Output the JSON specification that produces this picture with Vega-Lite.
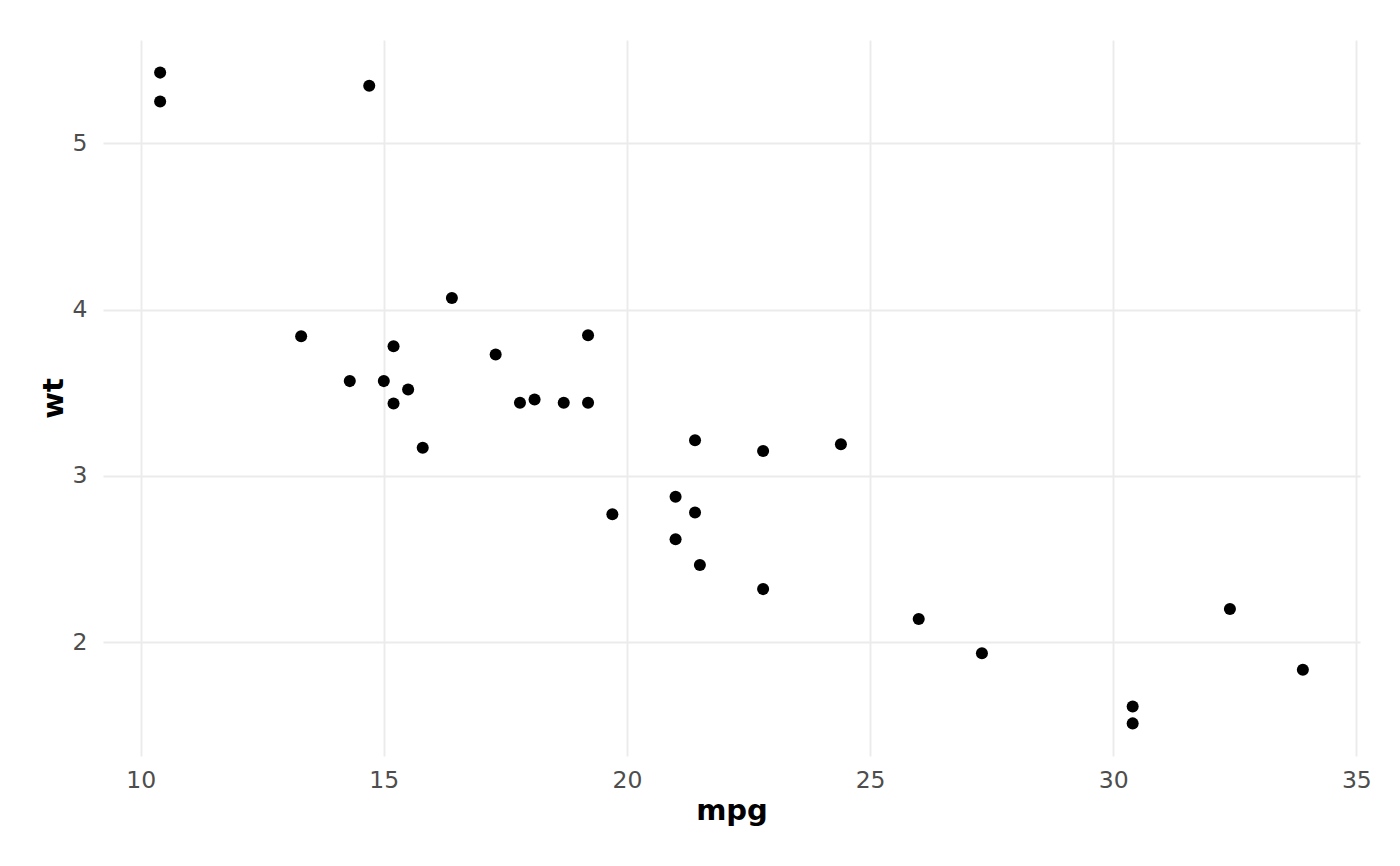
{
  "$schema": "https://vega.github.io/schema/vega-lite/v6.json",
  "width": 1257,
  "height": 716,
  "autosize": {"type": "none"},
  "padding": {"left": 103, "top": 40, "right": 40, "bottom": 110},
  "background": "white",
  "config": {
    "view": {"stroke": null},
    "font": "DejaVu Sans",
    "axis": {
      "domain": false,
      "ticks": false,
      "gridColor": "#ebebeb",
      "gridWidth": 1.9,
      "labelColor": "#4d4d4d",
      "labelFontSize": 23.5,
      "labelFont": "DejaVu Sans",
      "titleFont": "DejaVu Sans",
      "titleFontSize": 29,
      "titleFontWeight": "bold",
      "titleColor": "black"
    }
  },
  "data": {
    "values": [
      {"mpg": 21.0, "wt": 2.620}, {"mpg": 21.0, "wt": 2.875}, {"mpg": 22.8, "wt": 2.320},
      {"mpg": 21.4, "wt": 3.215}, {"mpg": 18.7, "wt": 3.440}, {"mpg": 18.1, "wt": 3.460},
      {"mpg": 14.3, "wt": 3.570}, {"mpg": 24.4, "wt": 3.190}, {"mpg": 22.8, "wt": 3.150},
      {"mpg": 19.2, "wt": 3.440}, {"mpg": 17.8, "wt": 3.440}, {"mpg": 16.4, "wt": 4.070},
      {"mpg": 17.3, "wt": 3.730}, {"mpg": 15.2, "wt": 3.780}, {"mpg": 10.4, "wt": 5.250},
      {"mpg": 10.4, "wt": 5.424}, {"mpg": 14.7, "wt": 5.345}, {"mpg": 32.4, "wt": 2.200},
      {"mpg": 30.4, "wt": 1.615}, {"mpg": 33.9, "wt": 1.835}, {"mpg": 21.5, "wt": 2.465},
      {"mpg": 15.5, "wt": 3.520}, {"mpg": 15.2, "wt": 3.435}, {"mpg": 13.3, "wt": 3.840},
      {"mpg": 19.2, "wt": 3.845}, {"mpg": 27.3, "wt": 1.935}, {"mpg": 26.0, "wt": 2.140},
      {"mpg": 30.4, "wt": 1.513}, {"mpg": 15.8, "wt": 3.170}, {"mpg": 19.7, "wt": 2.770},
      {"mpg": 15.0, "wt": 3.570}, {"mpg": 21.4, "wt": 2.780}
    ]
  },
  "mark": {"type": "circle", "color": "black", "opacity": 1, "size": 145},
  "encoding": {
    "x": {
      "field": "mpg", "type": "quantitative",
      "scale": {"domain": [9.225, 35.075], "nice": false, "zero": false},
      "axis": {"values": [10, 15, 20, 25, 30, 35], "labelPadding": 12, "titlePadding": 5}
    },
    "y": {
      "field": "wt", "type": "quantitative",
      "scale": {"domain": [1.317, 5.620], "nice": false, "zero": false},
      "axis": {"values": [2, 3, 4, 5], "labelPadding": 16, "titlePadding": 4}
    }
  }
}
